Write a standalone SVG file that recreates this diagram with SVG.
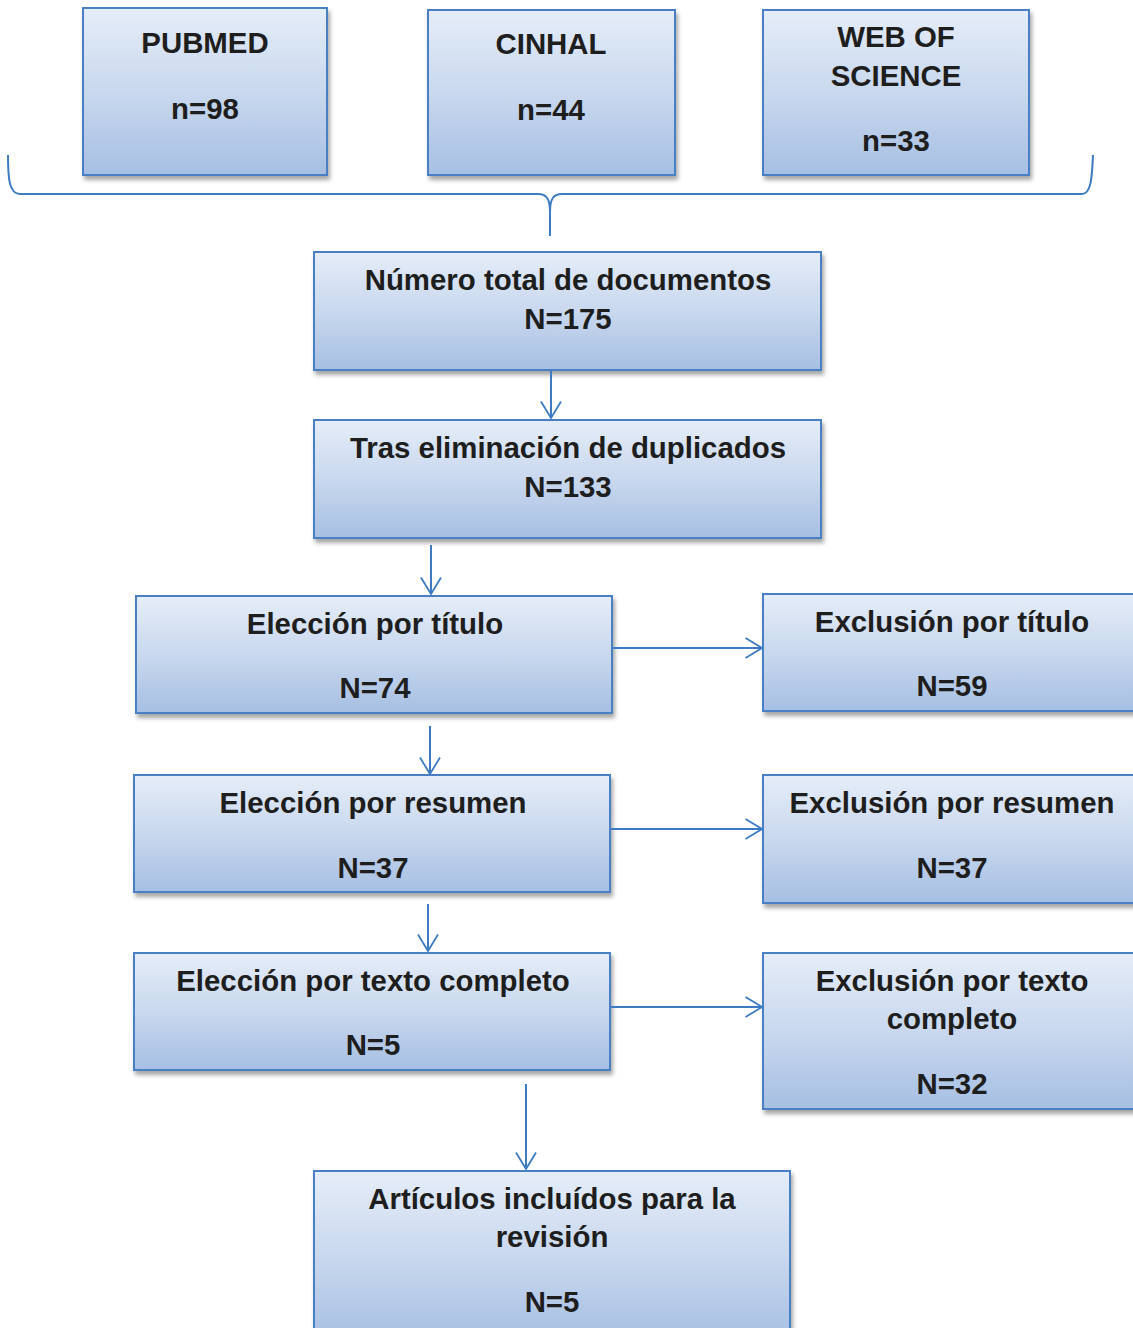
<svg xmlns="http://www.w3.org/2000/svg" width="1133" height="1328" viewBox="0 0 1133 1328">
<defs>
<linearGradient id="g" x1="0" y1="0" x2="0" y2="1">
<stop offset="0" stop-color="#E5EDF8"/>
<stop offset="0.5" stop-color="#C9D8EE"/>
<stop offset="1" stop-color="#A6BFE3"/>
</linearGradient>
<filter id="sh" x="-5%" y="-5%" width="115%" height="125%">
<feDropShadow dx="2" dy="4" stdDeviation="2" flood-color="#000" flood-opacity="0.35"/>
</filter>
<marker id="ah" viewBox="0 0 18 22" refX="17" refY="11" markerWidth="18" markerHeight="22" markerUnits="userSpaceOnUse" orient="auto">
<path d="M0.5,1 L17,11 L0.5,21" fill="none" stroke="#3D7CC2" stroke-width="1.8"/>
</marker>
<style>
.box{fill:url(#g);stroke:#4A80C4;stroke-width:2;filter:url(#sh)}
.t{font-family:"Liberation Sans",Arial,sans-serif;font-weight:bold;font-size:29.4px;fill:#1E1E1E;text-anchor:middle}
.c{fill:none;stroke:#3D7CC2;stroke-width:2}
</style>
</defs>

<g id="pubmed">
<rect class="box" x="83" y="8" width="244" height="167"/>
<text class="t" x="205" y="53">PUBMED</text>
<text class="t" x="205" y="119">n=98</text>
</g>
<g id="cinhal">
<rect class="box" x="428" y="10" width="247" height="165"/>
<text class="t" x="551" y="54">CINHAL</text>
<text class="t" x="551" y="120">n=44</text>
</g>
<g id="wos">
<rect class="box" x="763" y="10" width="266" height="165"/>
<text class="t" x="896" y="47">WEB OF</text>
<text class="t" x="896" y="86">SCIENCE</text>
<text class="t" x="896" y="151">n=33</text>
</g>
<g id="total">
<rect class="box" x="314" y="252" width="507" height="118"/>
<text class="t" x="568" y="290">Número total de documentos</text>
<text class="t" x="568" y="329">N=175</text>
</g>
<g id="duplicados">
<rect class="box" x="314" y="420" width="507" height="118"/>
<text class="t" x="568" y="458">Tras eliminación de duplicados</text>
<text class="t" x="568" y="497">N=133</text>
</g>
<g id="eleccion-titulo">
<rect class="box" x="136" y="596" width="476" height="117"/>
<text class="t" x="375" y="634">Elección por título</text>
<text class="t" x="375" y="698">N=74</text>
</g>
<g id="exclusion-titulo">
<rect class="box" x="763" y="594" width="380" height="117"/>
<text class="t" x="952" y="632">Exclusión por título</text>
<text class="t" x="952" y="696">N=59</text>
</g>
<g id="eleccion-resumen">
<rect class="box" x="134" y="775" width="476" height="117"/>
<text class="t" x="373" y="813">Elección por resumen</text>
<text class="t" x="373" y="878">N=37</text>
</g>
<g id="exclusion-resumen">
<rect class="box" x="763" y="775" width="380" height="128"/>
<text class="t" x="952" y="813">Exclusión por resumen</text>
<text class="t" x="952" y="878">N=37</text>
</g>
<g id="eleccion-texto">
<rect class="box" x="134" y="953" width="476" height="117"/>
<text class="t" x="373" y="991">Elección por texto completo</text>
<text class="t" x="373" y="1055">N=5</text>
</g>
<g id="exclusion-texto">
<rect class="box" x="763" y="953" width="380" height="156"/>
<text class="t" x="952" y="991">Exclusión por texto</text>
<text class="t" x="952" y="1029">completo</text>
<text class="t" x="952" y="1094">N=32</text>
</g>
<g id="incluidos">
<rect class="box" x="314" y="1171" width="476" height="170"/>
<text class="t" x="552" y="1209">Artículos incluídos para la</text>
<text class="t" x="552" y="1247">revisión</text>
<text class="t" x="552" y="1312">N=5</text>
</g>

<g id="connectors">
<path class="c" d="M8,155 C8,178 9,194 20,194 L538,194 C546,194 550,198 550,212 L550,236 M550,212 C550,198 554,194 562,194 L1082,194 C1091,194 1092,178 1093,155"/>
<path class="c" d="M551,371 L551,418" marker-end="url(#ah)"/>
<path class="c" d="M431,545 L431,594" marker-end="url(#ah)"/>
<path class="c" d="M430,726 L430,774" marker-end="url(#ah)"/>
<path class="c" d="M428,904 L428,951" marker-end="url(#ah)"/>
<path class="c" d="M526,1084 L526,1169" marker-end="url(#ah)"/>
<path class="c" d="M613,648 L762,648" marker-end="url(#ah)"/>
<path class="c" d="M611,829 L762,829" marker-end="url(#ah)"/>
<path class="c" d="M611,1007 L762,1007" marker-end="url(#ah)"/>
</g>
</svg>
